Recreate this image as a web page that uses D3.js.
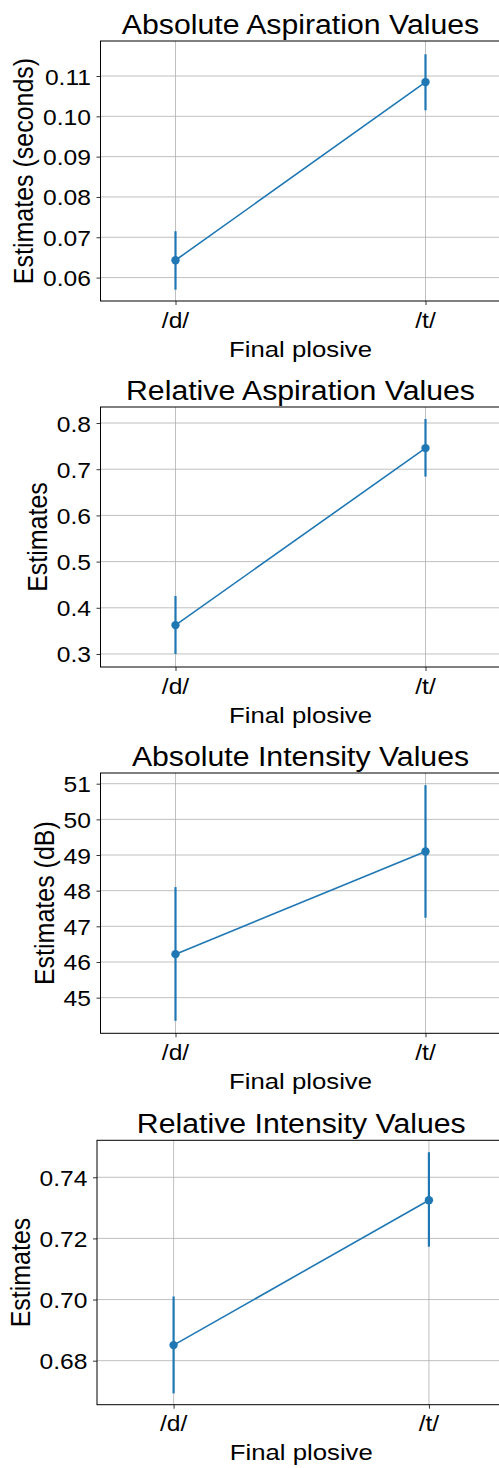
<!DOCTYPE html>
<html>
<head>
<meta charset="utf-8">
<script src="https://cdn.jsdelivr.net/npm/d3@7"></script>
<style>
  html, body { margin: 0; padding: 0; background: #fff; }
  svg { display: block; }
  text { font-family: "Liberation Sans", Arial, Helvetica, sans-serif; fill: #000; }
</style>
</head>
<body>
<script>
// ---------------- data ----------------
const categories = ["/d/", "/t/"];
const xLabel = "Final plosive";

const titles = [
  "Absolute Aspiration Values",
  "Relative Aspiration Values",
  "Absolute Intensity Values",
  "Relative Intensity Values"
];
const yLabels = [
  "Estimates (seconds)",
  "Estimates",
  "Estimates (dB)",
  "Estimates"
];

// point estimates and confidence interval bounds, per category
const absAspEst = [0.0643, 0.1085];
const absAspLow = [0.0570, 0.1015];
const absAspHigh = [0.0715, 0.1154];

const relAspEst = [0.3625, 0.7457];
const relAspLow = [0.3000, 0.6840];
const relAspHigh = [0.4256, 0.8087];

const absIntEst = [46.22, 49.10];
const absIntLow = [44.35, 47.24];
const absIntHigh = [48.10, 50.96];

const relIntEst = [0.6851, 0.7325];
const relIntLow = [0.6693, 0.7173];
const relIntHigh = [0.7010, 0.7482];

// tick values and labels
const absAspTicks = [0.06, 0.07, 0.08, 0.09, 0.10, 0.11];
const absAspTickLabels = ["0.06", "0.07", "0.08", "0.09", "0.10", "0.11"];
const relAspTicks = [0.3, 0.4, 0.5, 0.6, 0.7, 0.8];
const relAspTickLabels = ["0.3", "0.4", "0.5", "0.6", "0.7", "0.8"];
const absIntTicks = [45, 46, 47, 48, 49, 50, 51];
const absIntTickLabels = ["45", "46", "47", "48", "49", "50", "51"];
const relIntTicks = [0.68, 0.70, 0.72, 0.74];
const relIntTickLabels = ["0.68", "0.70", "0.72", "0.74"];

// axis limits
const absAspLimits = [0.05419, 0.11869];
const relAspLimits = [0.2718, 0.8347];
const absIntLimits = [44.0, 51.30];
const relIntLimits = [0.6656, 0.7521];

// ---------------- layout / style ----------------
const W = 499, H = 1468;
const BLUE = "#1f77b4";
const GRID = "#b0b0b0";
const SX = 1.12; // horizontal stretch of the rendered text
const FS_TITLE = 27, FS_TICK = 22, FS_XLABEL = 23, FS_YLABEL = 25;
const X_LIMITS = [-0.3, 1.3];

const panels = [
  { est: absAspEst, lo: absAspLow, hi: absAspHigh, ticks: absAspTicks, tickLabels: absAspTickLabels, lim: absAspLimits,
    title: titles[0], ylabel: yLabels[0], box: { left: 100.5, width: 400, top: 41, bottom: 301 } },
  { est: relAspEst, lo: relAspLow, hi: relAspHigh, ticks: relAspTicks, tickLabels: relAspTickLabels, lim: relAspLimits,
    title: titles[1], ylabel: yLabels[1], box: { left: 100.5, width: 400, top: 407, bottom: 667 } },
  { est: absIntEst, lo: absIntLow, hi: absIntHigh, ticks: absIntTicks, tickLabels: absIntTickLabels, lim: absIntLimits,
    title: titles[2], ylabel: yLabels[2], box: { left: 100.5, width: 400, top: 773, bottom: 1033.3 } },
  { est: relIntEst, lo: relIntLow, hi: relIntHigh, ticks: relIntTicks, tickLabels: relIntTickLabels, lim: relIntLimits,
    title: titles[3], ylabel: yLabels[3], box: { left: 97, width: 408.5, top: 1140.3, bottom: 1404.7 } }
];

const svg = d3.select("body").append("svg")
  .attr("width", W).attr("height", H)
  .attr("viewBox", `0 0 ${W} ${H}`);

function stretchedText(g, x, y, str, fs, anchor, rotate) {
  const t = g.append("text")
    .attr("transform", `translate(${x},${y}) scale(${SX},1)` + (rotate ? ` rotate(${rotate})` : ""))
    .attr("text-anchor", anchor)
    .attr("font-size", fs)
    .text(str);
  return t;
}

panels.forEach((p) => {
  const b = p.box;
  const right = b.left + b.width;
  const x = d3.scaleLinear().domain(X_LIMITS).range([b.left, right]);
  const y = d3.scaleLinear().domain(p.lim).range([b.bottom, b.top]);
  const g = svg.append("g");

  // grid lines
  g.append("g").selectAll("line.hgrid").data(p.ticks).join("line")
    .attr("x1", b.left).attr("x2", right)
    .attr("y1", d => y(d)).attr("y2", d => y(d))
    .attr("stroke", GRID).attr("stroke-width", 0.8);
  g.append("g").selectAll("line.vgrid").data(categories).join("line")
    .attr("x1", (d, i) => x(i)).attr("x2", (d, i) => x(i))
    .attr("y1", b.top).attr("y2", b.bottom)
    .attr("stroke", GRID).attr("stroke-width", 0.8);

  // y axis (ticks) using d3 axis
  const yAxis = d3.axisLeft(y).tickValues(p.ticks).tickSize(4).tickFormat("");
  const ya = g.append("g").attr("transform", `translate(${b.left},0)`).call(yAxis);
  ya.select(".domain").remove();
  ya.selectAll(".tick line").attr("stroke", "#000").attr("stroke-width", 0.8);

  // x axis ticks
  const xAxis = d3.axisBottom(x).tickValues(categories.map((c, i) => i)).tickSize(4).tickFormat("");
  const xa = g.append("g").attr("transform", `translate(0,${b.bottom})`).call(xAxis);
  xa.select(".domain").remove();
  xa.selectAll(".tick line").attr("stroke", "#000").attr("stroke-width", 0.8);

  // spines
  g.append("rect")
    .attr("x", b.left).attr("y", b.top)
    .attr("width", b.width).attr("height", b.bottom - b.top)
    .attr("fill", "none").attr("stroke", "#000").attr("stroke-width", 1);

  // y tick labels
  const labelEnd = b.left - 9.5;
  const tl = g.append("g");
  p.ticks.forEach((v, i) => {
    stretchedText(tl, labelEnd, y(v) + 8.5, p.tickLabels[i], FS_TICK, "end");
  });
  let maxW = 0;
  tl.selectAll("text").each(function () { maxW = Math.max(maxW, this.getComputedTextLength() * SX); });
  const tickLeft = labelEnd - maxW;

  // x tick labels
  categories.forEach((c, i) => {
    stretchedText(g, x(i), b.bottom + 26.5, c, FS_TICK, "middle");
  });

  // x label
  const cx = (b.left + right) / 2;
  stretchedText(g, cx, b.bottom + 55.5, xLabel, FS_XLABEL, "middle");

  // y label
  stretchedText(g, tickLeft - 10, (b.top + b.bottom) / 2, p.ylabel, FS_YLABEL, "middle", -90);

  // title
  stretchedText(g, cx, b.top - 7.5, p.title, FS_TITLE, "middle");

  // data: connecting line
  const line = d3.line().x((d, i) => x(i)).y(d => y(d));
  g.append("path").datum(p.est).attr("d", line)
    .attr("fill", "none").attr("stroke", BLUE).attr("stroke-width", 1.6);

  // error bars
  g.append("g").selectAll("line").data(categories).join("line")
    .attr("x1", (d, i) => x(i)).attr("x2", (d, i) => x(i))
    .attr("y1", (d, i) => y(p.lo[i])).attr("y2", (d, i) => y(p.hi[i]))
    .attr("stroke", BLUE).attr("stroke-width", 2.2);

  // markers
  g.append("g").selectAll("circle").data(p.est).join("circle")
    .attr("cx", (d, i) => x(i)).attr("cy", d => y(d))
    .attr("r", 4.2).attr("fill", BLUE);
});
</script>
</body>
</html>
